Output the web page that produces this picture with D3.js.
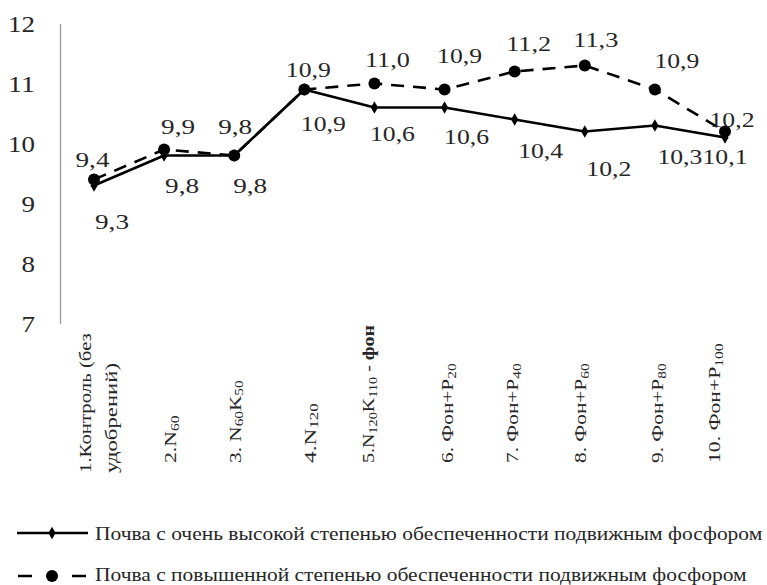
<!DOCTYPE html>
<html><head><meta charset="utf-8">
<script src="https://cdn.jsdelivr.net/npm/d3@7"></script>
<style>body{margin:0;background:#fff} svg{display:block}</style>
</head><body>
<svg id="chart" width="767" height="585"></svg>
<script>
// ---- data ----
const categories = ["1.Контроль (без\nудобрений)", "2.N60", "3. N60K50", "4.N120", "5.N120K110 - фон",
  "6. Фон+P20", "7. Фон+P40", "8. Фон+P60", "9. Фон+P80", "10. Фон+P100"];
const seriesNames = ["Почва с очень высокой степенью обеспеченности подвижным фосфором",
  "Почва с повышенной степенью обеспеченности подвижным фосфором"];
const veryHigh = [9.3, 9.8, 9.8, 10.9, 10.6, 10.6, 10.4, 10.2, 10.3, 10.1];
const elevated = [9.4, 9.9, 9.8, 10.9, 11.0, 10.9, 11.2, 11.3, 10.9, 10.2];
const yTicks = [7, 8, 9, 10, 11, 12];

// ---- layout (label nudges, sizes) ----
const veryHighLabelOff = [[18,36],[18,30.5],[16,30.5],[19,34],[18,26],[22,29],[26,31.5],[24,37.5],[25,31.5],[0,19.5]];
const elevatedLabelOff = [[-1.5,-20],[14,-22.5],[1,-28.5],[4,-19.5],[13,-23.5],[15,-33.5],[14,-27.5],[11,-26],[22,-28.5],[7,-12]];
const xLabelLen = [[140,110],[48],[83],[60],[138],[100],[100],[100],[100],[120]];
const xLabelDx = [0,7,1,6,-6,3,-2,-4,3,-10];

const FONT = "'Liberation Serif','Times New Roman','DejaVu Serif','Noto Serif',serif";
const TXT = "#262626";
const svg = d3.select("#chart").attr("font-family", FONT);

const x = d3.scalePoint().domain(categories).range([94, 725]);
const y = d3.scaleLinear().domain([7, 12]).range([323.5, 23.5]);
const fmt = v => d3.format(".1f")(v).replace(".", ",");

// helper: text fitted to a target width (the reference is horizontally stretched)
function fitText(sel, target) {
  const w = sel.node().getBBox().width || 1;
  return target / w;
}

// y axis
const yAxis = svg.append("g").attr("transform", "translate(60,0)")
  .call(d3.axisLeft(y).tickValues(yTicks).tickSize(0).tickSizeOuter(0).tickPadding(25).tickFormat(d3.format("d")));
yAxis.attr("font-family", FONT);
yAxis.select(".domain").attr("stroke", "#9a9a9a").attr("stroke-width", 1.3);
yAxis.selectAll(".tick text")
  .attr("font-family", FONT).attr("font-size", 24).attr("fill", TXT)
  .attr("x", 0).attr("dy", "0.34em")
  .each(function(d) {
    const s = fitText(d3.select(this), String(d).length * 13.5);
    d3.select(this).attr("transform", `translate(-25,0) scale(${s},1)`);
  });

function sText(parent, px, py, str, fs, opts) {
  opts = opts || {};
  const g = parent.append("g");
  const t = g.append("text").attr("font-size", fs).attr("fill", opts.fill || TXT)
    .attr("text-anchor", opts.anchor || "middle").attr("dy", opts.dy || "0.34em").text(str);
  const s = opts.width ? fitText(t, opts.width) : 1;
  g.attr("transform", `translate(${px},${py}) scale(${s},1)`);
  return g;
}

// lines
const lineGen = d3.line().x((d, i) => x(categories[i])).y(d => y(d));
svg.append("path").datum(veryHigh).attr("d", lineGen)
  .attr("fill", "none").attr("stroke", "#000").attr("stroke-width", 2.6).attr("stroke-linejoin", "round");
svg.append("path").datum(elevated).attr("d", lineGen)
  .attr("fill", "none").attr("stroke", "#000").attr("stroke-width", 2.6).attr("stroke-dasharray", "13,9");

// markers
svg.append("g").selectAll("path").data(veryHigh).join("path")
  .attr("d", d3.symbol(d3.symbolDiamond, 45))
  .attr("transform", (d, i) => `translate(${x(categories[i])},${y(d)})`).attr("fill", "#000");
svg.append("g").selectAll("circle").data(elevated).join("circle")
  .attr("cx", (d, i) => x(categories[i])).attr("cy", d => y(d)).attr("r", 6).attr("fill", "#000");

// data labels
const labW = str => str.replace(",", "").length * 11 + 12;
const lab = svg.append("g");
veryHigh.forEach((v, i) => sText(lab, x(categories[i]) + veryHighLabelOff[i][0], y(v) + veryHighLabelOff[i][1], fmt(v), 22, {width: labW(fmt(v))}));
elevated.forEach((v, i) => sText(lab, x(categories[i]) + elevatedLabelOff[i][0], y(v) + elevatedLabelOff[i][1], fmt(v), 22, {width: labW(fmt(v))}));

// x labels (rotated)
function addSegs(text, line, fs) {
  const re = /([NKP])(\d+)|(фон)$/g;
  const segs = [];
  let last = 0, m;
  while ((m = re.exec(line))) {
    if (m.index > last) segs.push({t: line.slice(last, m.index)});
    if (m[1]) { segs.push({t: m[1]}); segs.push({t: m[2], sub: true}); }
    else segs.push({t: m[3], bold: true});
    last = re.lastIndex;
  }
  if (last < line.length) segs.push({t: line.slice(last)});
  let cur = 0;
  segs.forEach(s => {
    const shift = s.sub ? fs * 0.18 : 0;
    const ts = text.append("tspan").text(s.t).attr("dy", shift - cur);
    cur = shift;
    if (s.sub) ts.attr("font-size", fs * 0.72);
    if (s.bold) ts.attr("font-weight", "bold");
  });
}
const xl = svg.append("g");
const XFS = 16;
categories.forEach((c, i) => {
  const lines = c.split("\n");
  const bottom = lines.length > 1 ? 473 : 463;
  lines.forEach((ln, k) => {
    const cx = x(c) + xLabelDx[i] + (lines.length > 1 ? (k === 0 ? -8 : 18) : 0);
    const g = xl.append("g");
    const t = g.append("text").attr("font-size", XFS).attr("fill", TXT).attr("text-anchor", "start");
    addSegs(t, ln, XFS);
    const s = fitText(t, xLabelLen[i][k]);
    g.attr("transform", `translate(${cx + XFS * 0.33},${bottom}) rotate(-90) scale(${s},1)`);
  });
});

// legend
const leg = svg.append("g");
leg.append("line").attr("x1", 17).attr("x2", 88).attr("y1", 533).attr("y2", 533)
  .attr("stroke", "#000").attr("stroke-width", 2.6);
leg.append("path").attr("d", d3.symbol(d3.symbolDiamond, 45)).attr("transform", "translate(52,533)").attr("fill", "#000");
sText(leg, 95, 534, seriesNames[0], 19, {anchor: "start", width: 668});
leg.append("line").attr("x1", 18).attr("x2", 86).attr("y1", 576).attr("y2", 576)
  .attr("stroke", "#000").attr("stroke-width", 2.6).attr("stroke-dasharray", "14,40");
leg.append("circle").attr("cx", 52).attr("cy", 576).attr("r", 6).attr("fill", "#000");
sText(leg, 95, 575, seriesNames[1], 19, {anchor: "start", width: 652});
</script>
</body></html>
